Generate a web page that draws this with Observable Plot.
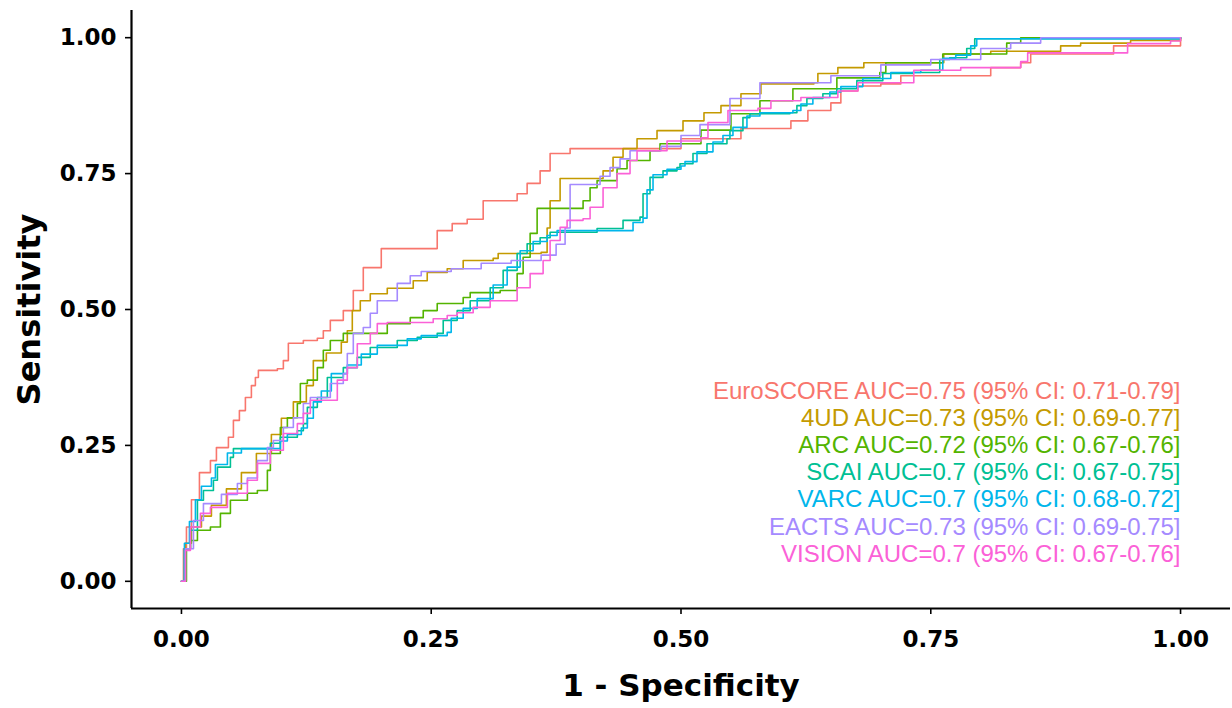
<!DOCTYPE html>
<html><head><meta charset="utf-8">
<script src="https://cdn.jsdelivr.net/npm/d3@7"></script>
<script src="https://cdn.jsdelivr.net/npm/@observablehq/plot@0.6"></script>
<style>html,body{margin:0;padding:0;background:#fff;}</style>
</head><body><div id="chart"></div>
<script>
const models = ["EuroSCORE", "4UD", "ARC", "SCAI", "VARC", "EACTS", "VISION"];
const aucLabels = [
  "AUC=0.75 (95% CI: 0.71-0.79]",
  "AUC=0.73 (95% CI: 0.69-0.77]",
  "AUC=0.72 (95% CI: 0.67-0.76]",
  "AUC=0.7 (95% CI: 0.67-0.75]",
  "AUC=0.7 (95% CI: 0.68-0.72]",
  "AUC=0.73 (95% CI: 0.69-0.75]",
  "AUC=0.7 (95% CI: 0.67-0.76]"
];
const palette = ["#F8766D", "#C49A00", "#53B400", "#00C094", "#00B6EB", "#A58AFF", "#FB61D7"];
const xTicks = [0, 0.25, 0.5, 0.75, 1];
const yTicks = [0, 0.25, 0.5, 0.75, 1];

// ROC points [1 - specificity, sensitivity]
const euroscore = [[0,0],[0.002,0.06],[0.005,0.1],[0.01,0.15],[0.018,0.2],[0.029,0.222],[0.035,0.246],[0.047,0.265],[0.052,0.296],[0.058,0.314],[0.064,0.338],[0.07,0.36],[0.074,0.375],[0.077,0.388],[0.096,0.391],[0.102,0.406],[0.107,0.438],[0.122,0.443],[0.136,0.447],[0.142,0.461],[0.149,0.48],[0.162,0.498],[0.172,0.535],[0.182,0.577],[0.2,0.612],[0.242,0.612],[0.256,0.645],[0.271,0.658],[0.286,0.666],[0.302,0.7],[0.336,0.713],[0.346,0.732],[0.359,0.755],[0.369,0.787],[0.389,0.796],[0.47,0.796],[0.5,0.814],[0.56,0.833],[0.603,0.833],[0.61,0.847],[0.627,0.866],[0.65,0.88],[0.66,0.902],[0.677,0.911],[0.7,0.915],[0.72,0.93],[0.81,0.945],[0.84,0.954],[0.85,0.97],[0.933,0.985],[1,1]];
const fourUD = [[0,0],[0.004,0.07],[0.01,0.1],[0.02,0.12],[0.03,0.14],[0.045,0.17],[0.06,0.2],[0.075,0.235],[0.09,0.27],[0.1,0.3],[0.112,0.33],[0.125,0.36],[0.132,0.406],[0.145,0.42],[0.16,0.44],[0.166,0.461],[0.171,0.498],[0.179,0.516],[0.189,0.529],[0.206,0.539],[0.232,0.553],[0.246,0.568],[0.266,0.575],[0.282,0.59],[0.312,0.594],[0.317,0.603],[0.36,0.605],[0.366,0.65],[0.369,0.7],[0.379,0.741],[0.416,0.741],[0.422,0.755],[0.432,0.78],[0.442,0.796],[0.456,0.814],[0.476,0.829],[0.502,0.847],[0.523,0.862],[0.54,0.875],[0.56,0.897],[0.58,0.915],[0.633,0.917],[0.637,0.934],[0.657,0.945],[0.683,0.954],[0.72,0.954],[0.763,0.97],[0.81,0.975],[0.88,0.985],[0.9,0.99],[0.95,0.995],[1,1]];
const arc = [[0,0],[0.005,0.06],[0.009,0.075],[0.016,0.094],[0.029,0.1],[0.039,0.125],[0.049,0.149],[0.066,0.162],[0.076,0.167],[0.086,0.204],[0.089,0.235],[0.099,0.283],[0.106,0.301],[0.116,0.327],[0.119,0.364],[0.126,0.37],[0.136,0.393],[0.142,0.425],[0.149,0.443],[0.162,0.456],[0.206,0.474],[0.229,0.485],[0.242,0.498],[0.256,0.511],[0.282,0.522],[0.289,0.531],[0.319,0.535],[0.336,0.566],[0.342,0.596],[0.349,0.64],[0.356,0.686],[0.399,0.686],[0.402,0.7],[0.409,0.724],[0.416,0.737],[0.436,0.759],[0.446,0.774],[0.469,0.792],[0.479,0.805],[0.52,0.83],[0.55,0.86],[0.579,0.884],[0.612,0.906],[0.656,0.926],[0.699,0.936],[0.705,0.954],[0.762,0.97],[0.826,0.99],[0.84,1],[1,1]];
const scai = [[0,0],[0.003,0.06],[0.009,0.094],[0.016,0.149],[0.022,0.167],[0.032,0.186],[0.036,0.21],[0.049,0.228],[0.052,0.244],[0.086,0.244],[0.089,0.254],[0.099,0.265],[0.116,0.277],[0.122,0.29],[0.126,0.32],[0.136,0.338],[0.146,0.375],[0.162,0.393],[0.176,0.412],[0.189,0.43],[0.216,0.443],[0.236,0.449],[0.256,0.456],[0.262,0.48],[0.276,0.498],[0.289,0.516],[0.309,0.54],[0.322,0.572],[0.336,0.603],[0.346,0.621],[0.359,0.632],[0.369,0.642],[0.416,0.649],[0.439,0.649],[0.442,0.664],[0.459,0.67],[0.462,0.713],[0.469,0.743],[0.482,0.755],[0.496,0.761],[0.499,0.768],[0.512,0.787],[0.526,0.805],[0.546,0.814],[0.549,0.829],[0.562,0.853],[0.569,0.86],[0.609,0.862],[0.616,0.875],[0.626,0.888],[0.642,0.897],[0.656,0.906],[0.676,0.921],[0.702,0.934],[0.732,0.936],[0.759,0.96],[0.769,0.963],[0.786,0.98],[0.794,0.998],[1,1]];
const varc = [[0,0],[0.003,0.07],[0.008,0.11],[0.014,0.15],[0.02,0.175],[0.03,0.19],[0.034,0.215],[0.046,0.236],[0.056,0.236],[0.06,0.244],[0.096,0.244],[0.099,0.258],[0.106,0.27],[0.12,0.282],[0.126,0.3],[0.132,0.33],[0.14,0.35],[0.15,0.382],[0.166,0.398],[0.18,0.418],[0.196,0.434],[0.226,0.446],[0.24,0.452],[0.266,0.458],[0.27,0.484],[0.282,0.502],[0.296,0.52],[0.312,0.545],[0.326,0.578],[0.339,0.608],[0.352,0.625],[0.366,0.636],[0.376,0.645],[0.449,0.645],[0.452,0.66],[0.462,0.668],[0.466,0.72],[0.472,0.748],[0.486,0.758],[0.5,0.764],[0.504,0.772],[0.516,0.79],[0.532,0.808],[0.542,0.82],[0.552,0.835],[0.566,0.856],[0.579,0.862],[0.612,0.866],[0.62,0.878],[0.632,0.89],[0.649,0.9],[0.66,0.91],[0.682,0.925],[0.71,0.936],[0.74,0.94],[0.762,0.962],[0.775,0.968],[0.79,0.985],[0.796,0.998],[1,1]];
const eacts = [[0,0],[0.004,0.06],[0.012,0.112],[0.022,0.143],[0.04,0.16],[0.056,0.18],[0.066,0.19],[0.076,0.222],[0.086,0.246],[0.092,0.259],[0.102,0.283],[0.112,0.301],[0.122,0.327],[0.129,0.338],[0.149,0.364],[0.162,0.382],[0.166,0.419],[0.172,0.456],[0.182,0.467],[0.189,0.493],[0.196,0.516],[0.216,0.548],[0.229,0.562],[0.24,0.57],[0.27,0.575],[0.3,0.585],[0.33,0.59],[0.36,0.6],[0.375,0.62],[0.384,0.65],[0.389,0.73],[0.412,0.73],[0.419,0.745],[0.429,0.761],[0.439,0.777],[0.449,0.792],[0.48,0.8],[0.5,0.82],[0.519,0.84],[0.549,0.888],[0.579,0.917],[0.632,0.917],[0.65,0.93],[0.7,0.95],[0.75,0.96],[0.8,0.98],[0.83,0.99],[0.86,1],[1,1]];
const vision = [[0,0],[0.004,0.057],[0.009,0.1],[0.019,0.125],[0.029,0.136],[0.046,0.162],[0.066,0.186],[0.076,0.217],[0.089,0.241],[0.102,0.272],[0.116,0.29],[0.122,0.309],[0.129,0.333],[0.156,0.37],[0.166,0.393],[0.176,0.437],[0.189,0.456],[0.196,0.474],[0.206,0.476],[0.252,0.483],[0.266,0.489],[0.276,0.494],[0.292,0.504],[0.309,0.516],[0.336,0.54],[0.349,0.566],[0.362,0.59],[0.369,0.627],[0.379,0.651],[0.386,0.664],[0.402,0.667],[0.409,0.688],[0.422,0.724],[0.436,0.75],[0.449,0.774],[0.456,0.792],[0.486,0.81],[0.52,0.816],[0.527,0.844],[0.547,0.866],[0.577,0.87],[0.59,0.884],[0.62,0.89],[0.657,0.902],[0.677,0.917],[0.72,0.917],[0.733,0.94],[0.78,0.945],[0.84,0.956],[0.847,0.972],[0.947,0.974],[0.947,0.989],[0.99,0.994],[1,1]];

const series = [euroscore, fourUD, arc, scai, varc, eacts, vision];
const rows = models.flatMap((m, i) => series[i].map(([x, y]) => ({model: m, x, y})));
const legendRows = models.map((m, i) => ({model: m, label: `${m} ${aucLabels[i]}`, i}));

const bold = "DejaVu Sans";
const plot = Plot.plot({
  width: 1232, height: 708,
  marginLeft: 131, marginRight: 2, marginTop: 10, marginBottom: 100,
  x: {domain: [-0.05, 1.05]},
  y: {domain: [-0.05, 1.05]},
  color: {domain: models, range: palette},
  style: {background: "#fff", fontFamily: bold},
  marks: [
    Plot.line(rows, {x: "x", y: "y", z: "model", stroke: "model", curve: "step-after", strokeWidth: 1.6}),
    Plot.text(legendRows, {x: 1, y: d => 0.35 - 0.05 * d.i, text: "label", fill: "model", textAnchor: "end", fontSize: 24, fontFamily: "Liberation Sans"}),
    Plot.ruleX([-0.05], {stroke: "#000", strokeWidth: 2.2}),
    Plot.ruleY([-0.05], {stroke: "#000", strokeWidth: 2.2}),
    Plot.axisX({ticks: xTicks, tickFormat: d3.format(".2f"), tickSize: 6, tickPadding: 16, fontSize: 23, fontWeight: "bold", label: null, stroke: "#000", strokeWidth: 1.6, fill: "#000"}),
    Plot.axisY({ticks: yTicks, tickFormat: d3.format(".2f"), tickSize: 6, tickPadding: 9, fontSize: 23, fontWeight: "bold", label: null, stroke: "#000", strokeWidth: 1.6, fill: "#000"}),
    Plot.text(["1 - Specificity"], {frameAnchor: "bottom", dy: 78, lineAnchor: "middle", textAnchor: "middle", fontSize: 31, fontWeight: "bold", fontFamily: bold, fill: "#000"}),
    Plot.text(["Sensitivity"], {frameAnchor: "left", dx: -102, rotate: -90, textAnchor: "middle", lineAnchor: "middle", fontSize: 32, fontWeight: "bold", fontFamily: bold, fill: "#000"})
  ]
});
document.getElementById("chart").appendChild(plot);
</script>
</body></html>
